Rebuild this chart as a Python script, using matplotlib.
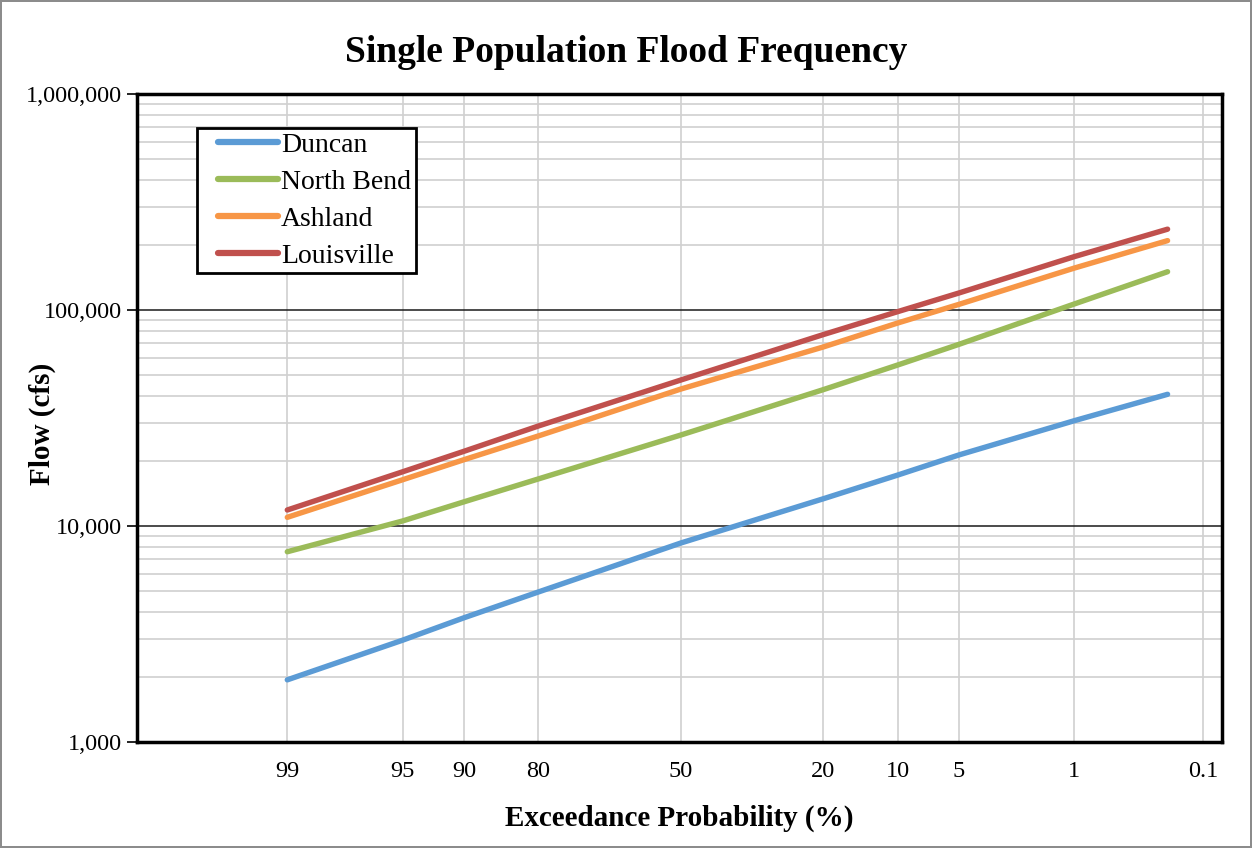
import numpy as np
import matplotlib
matplotlib.use("Agg")
import matplotlib.pyplot as plt
from matplotlib.ticker import FixedLocator, NullLocator, FuncFormatter, LogLocator, NullFormatter
from matplotlib.legend_handler import HandlerLine2D
from statistics import NormalDist

# ------------------- data -------------------
exceedance = [99, 95, 90, 80, 50, 20, 10, 5, 1, 0.2]   # exceedance probability (%)
duncan = [1940, 2960, 3760, 4950, 8340, 13360, 17200, 21330, 30720, 40710]
north_bend = [7600, 10550, 12940, 16520, 26370, 42760, 55600, 69350, 106600, 150400]
ashland = [10970, 16370, 20280, 26120, 43050, 67400, 87000, 106200, 156300, 209500]
louisville = [11860, 17820, 22180, 29040, 47400, 76900, 98200, 119900, 176600, 236700]

series_names = ["Duncan", "North Bend", "Ashland", "Louisville"]
series_colors = ["#5B9BD5", "#9BBB59", "#F79646", "#C0504D"]

x_ticks = [99, 95, 90, 80, 50, 20, 10, 5, 1, 0.1]
x_tick_labels = ["99", "95", "90", "80", "50", "20", "10", "5", "1", "0.1"]
y_ticks = [1000, 10000, 100000, 1000000]

# ------------------- normal probability scale -------------------
_nd = NormalDist()
_ppf = np.vectorize(lambda q: _nd.inv_cdf(q), otypes=[float])
_cdf = np.vectorize(lambda z: _nd.cdf(z), otypes=[float])

def prob_fwd(p):
    # exceedance % -> normal variate (increasing); axis is inverted via xlim
    p = np.clip(np.asarray(p, dtype=float), 1e-9, 100 - 1e-9)
    return _ppf(p / 100.0)

def prob_inv(z):
    return 100.0 * _cdf(np.asarray(z, dtype=float))

plt.rcParams['font.family'] = ['Liberation Serif', 'DejaVu Serif']

fig = plt.figure(figsize=(12.52, 8.48), dpi=100)
fig.patch.set_edgecolor('#8c8c8c')
fig.patch.set_linewidth(1.5)
ax = fig.add_axes([137/1252, 1 - 742/848, (1222-137)/1252, (742-94)/848])

ax.set_xscale('function', functions=(prob_fwd, prob_inv))
ax.set_yscale('log')

for name, vals, col in zip(series_names, [duncan, north_bend, ashland, louisville], series_colors):
    ax.plot(exceedance, vals, color=col, lw=3.9, solid_capstyle='round', label=name, zorder=3)

# left edge ~ z=-3.215, right edge ~ z=+3.2 (frequent events on the left)
ax.set_xlim(float(prob_inv(3.215)), float(prob_inv(-3.2)))
ax.set_ylim(1000, 1000000)

ax.xaxis.set_major_locator(FixedLocator(x_ticks))
ax.xaxis.set_major_formatter(FuncFormatter(lambda v, pos: x_tick_labels[pos] if pos is not None and pos < len(x_tick_labels) else ""))
ax.xaxis.set_minor_locator(NullLocator())

ax.yaxis.set_major_locator(FixedLocator(y_ticks))
ax.yaxis.set_major_formatter(FuncFormatter(lambda v, pos: "{:,.0f}".format(v)))
ax.yaxis.set_minor_locator(LogLocator(base=10, subs=np.arange(2, 10)))
ax.yaxis.set_minor_formatter(NullFormatter())

ax.grid(True, axis='x', which='major', color='#d0d0d0', lw=1.2, zorder=0)
ax.grid(True, axis='y', which='major', color='#1a1a1a', lw=1.1, zorder=1)
ax.grid(True, axis='y', which='minor', color='#d0d0d0', lw=1.2, zorder=0)
ax.set_axisbelow(True)

ax.tick_params(axis='x', which='both', length=0, pad=14, labelsize=17.5)
ax.tick_params(axis='y', which='major', length=7, width=1.2, direction='out', pad=4, labelsize=17.5)
ax.tick_params(axis='y', which='minor', length=0)

for sp in ax.spines.values():
    sp.set_linewidth(2.5)
    sp.set_color('black')

ax.set_xlabel("Exceedance Probability (%)", fontsize=21, fontweight='bold', labelpad=16)
ax.set_ylabel("Flow (cfs)", fontsize=21, fontweight='bold')
ax.yaxis.set_label_coords(-0.0745, 0.4915)

fig.text(0.5, 1 - 52/848, "Single Population Flood Frequency", ha='center', va='center',
         fontsize=27, fontweight='bold')

leg = ax.legend(loc='upper left', bbox_to_anchor=(0.0553, 0.9475), borderaxespad=0,
                fontsize=20, frameon=True, fancybox=False, handlelength=2.75,
                handletextpad=0.1, labelspacing=0.41, borderpad=0.17,
                handler_map={plt.Line2D: HandlerLine2D(xpad=0.6)})
leg.get_frame().set_edgecolor('black')
leg.get_frame().set_linewidth(2)
leg.get_frame().set_alpha(1)
for h in leg.get_lines():
    h.set_linewidth(4.5)

fig.savefig("out.png", dpi=100)
